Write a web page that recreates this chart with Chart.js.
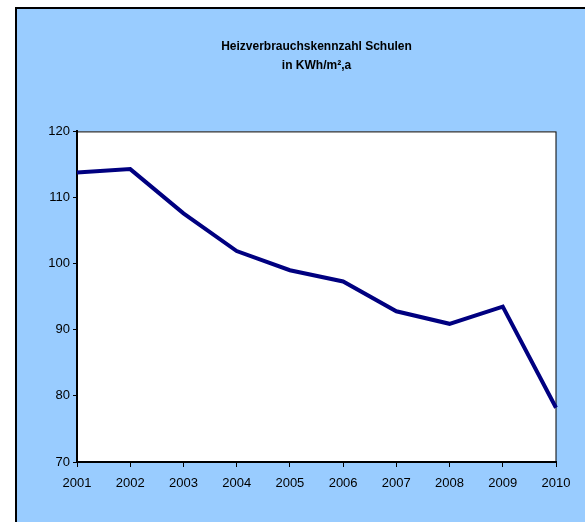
<!DOCTYPE html>
<html>
<head>
<meta charset="utf-8">
<script src="https://cdn.jsdelivr.net/npm/chart.js@4/dist/chart.umd.min.js"></script>
<style>
  html, body { margin: 0; padding: 0; background: #fff; }
  #wrap { width: 585px; height: 522px; }
</style>
</head>
<body>
<div id="wrap"><canvas id="myChart" width="585" height="522"></canvas></div>
<script>
// data
const years = ['2001', '2002', '2003', '2004', '2005', '2006', '2007', '2008', '2009', '2010'];
const heatValues = [113.8, 114.3, 107.6, 101.9, 99.0, 97.3, 92.8, 90.9, 93.5, 78.2];
const yTicks = [70, 80, 90, 100, 110, 120];
const titleLines = ['Heizverbrauchskennzahl Schulen', 'in KWh/m²,a'];

const fontFamily = "'Liberation Sans Narrow', 'Liberation Sans', Arial, sans-serif";

// light blue chart area with the black frame, white plot area
const backdrop = {
    id: 'backdrop',
    beforeDraw(chart) {
        const ctx = chart.ctx;
        const a = chart.chartArea;
        ctx.save();
        ctx.fillStyle = '#ffffff';
        ctx.fillRect(0, 0, chart.width, chart.height);
        ctx.fillStyle = '#99ccff';
        ctx.fillRect(16, 8, chart.width - 16, chart.height - 8);
        ctx.strokeStyle = '#000';
        ctx.lineWidth = 2;
        ctx.beginPath();
        ctx.moveTo(16, chart.height);
        ctx.lineTo(16, 8);
        ctx.lineTo(chart.width, 8);
        ctx.stroke();
        ctx.fillStyle = '#ffffff';
        ctx.fillRect(a.left, a.top, a.right - a.left, a.bottom - a.top);
        ctx.lineWidth = 1;
        ctx.strokeStyle = '#000';
        ctx.strokeRect(a.left + 0.5, a.top + 0.5, a.right - a.left - 0.5, a.bottom - a.top - 0.5);
        ctx.restore();
    }
};

const ctx = document.getElementById('myChart').getContext('2d');
const myChart = new Chart(ctx, {
    type: 'line',
    data: {
        labels: years,
        datasets: [{
            data: heatValues,
            borderColor: '#000080',
            borderWidth: 4,
            pointRadius: 0,
            tension: 0,
            fill: false
        }]
    },
    options: {
        responsive: false,
        animation: false,
        layout: { padding: { top: 0, right: 29, bottom: 0, left: 0 } },
        plugins: {
            legend: { display: false },
            tooltip: { enabled: false },
            title: {
                display: true,
                fullSize: false,
                text: titleLines,
                color: '#000',
                font: { family: fontFamily, size: 12, weight: 'bold', lineHeight: 1.6 },
                padding: { top: 37, bottom: 56 }
            }
        },
        scales: {
            x: {
                type: 'category',
                offset: false,
                grid: { drawOnChartArea: false, drawTicks: true, tickLength: 5, color: '#000' },
                border: { color: '#000', width: 2 },
                ticks: { color: '#000', padding: 9, maxRotation: 0, autoSkip: false, font: { family: fontFamily, size: 13 } },
                afterFit(scale) { scale.height = 60; }
            },
            y: {
                min: yTicks[0],
                max: yTicks[yTicks.length - 1],
                afterBuildTicks(scale) { scale.ticks = yTicks.map(v => ({ value: v })); },
                grid: { drawOnChartArea: false, drawTicks: true, tickLength: 4, color: '#000' },
                border: { color: '#000', width: 2 },
                ticks: { color: '#000', padding: 3, font: { family: fontFamily, size: 13 } },
                afterFit(scale) { scale.width = 77; }
            }
        }
    },
    plugins: [backdrop]
});
</script>
</body>
</html>
